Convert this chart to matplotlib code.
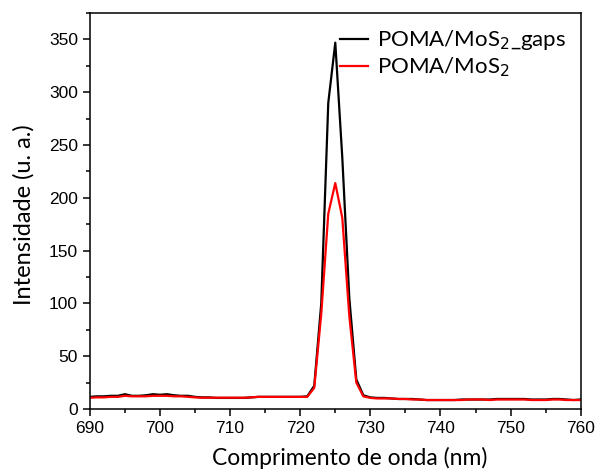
import numpy as np
import matplotlib.pyplot as plt
from matplotlib.ticker import MultipleLocator

# wavelength (nm), 1 nm step
wavelength = np.arange(690, 761)

# POMA/MoS2_gaps (black)
gaps = [11.5, 12, 12, 12.5, 12.5, 14, 12.5, 12.5, 13, 14,
        13.5, 14, 13, 12.5, 12.5, 11.5, 11, 11, 10.5, 10.5,
        10.5, 10.5, 10.5, 11, 11.5, 11.5, 11.5, 11.5, 11.5, 11.5,
        11.5, 12, 22, 100, 290, 347, 238, 105, 28, 13,
        11, 10.5, 10.5, 10, 9.5, 9.5, 9.5, 9, 8.5, 8.5,
        8.5, 8.5, 8.5, 9, 9, 9, 9, 9, 9.5, 9.5,
        9.5, 9.5, 9.5, 9, 9, 9, 9.5, 9.5, 9, 8.5, 9]

# POMA/MoS2 (red)
pure = [10.7, 11, 11, 11.5, 11.5, 12.5, 12, 12, 12, 12.5,
        12.5, 12.5, 12, 12, 11.5, 11, 10.7, 10.7, 10.7, 10.7,
        10.7, 10.7, 10.7, 11, 11.5, 11.5, 11.5, 11.5, 11.5, 11.5,
        11.5, 11.5, 20, 90, 185, 214, 181, 88, 25, 12,
        10.5, 10, 10, 10, 9.5, 9.5, 9, 9, 8.5, 8.5,
        8.5, 8.5, 8.5, 8.5, 9, 9, 9, 8.5, 9, 9,
        9, 9, 9, 8.5, 8.5, 8.5, 9, 9, 8.5, 8.5, 8.5]

fig = plt.figure(figsize=(5.95, 4.73), dpi=100)
ax = fig.add_axes([0.151, 0.1353, 0.825, 0.837])

ax.plot(wavelength, gaps, color='black', lw=1.6, label='POMA/MoS$_2$_gaps')
ax.plot(wavelength, pure, color='#ff0000', lw=1.6, label='POMA/MoS$_2$')

ax.set_xlim(690, 760)
ax.set_ylim(0, 375)
ax.xaxis.set_major_locator(MultipleLocator(10))
ax.xaxis.set_minor_locator(MultipleLocator(5))
ax.yaxis.set_major_locator(MultipleLocator(50))
ax.yaxis.set_minor_locator(MultipleLocator(25))
ax.tick_params(which='both', direction='out', width=1.1)
ax.tick_params(which='major', length=5, labelsize=12.5)
ax.tick_params(which='minor', length=3)
for lbl in ax.get_xticklabels() + ax.get_yticklabels():
    lbl.set_family('Liberation Sans')
for s in ax.spines.values():
    s.set_linewidth(1.1)

ax.set_xlabel('Comprimento de onda (nm)', family='Lato', fontsize=16.5)
ax.set_ylabel('Intensidade (u. a.)', family='Lato', fontsize=17)
ax.xaxis.set_label_coords(0.53, -0.095)
ax.yaxis.set_label_coords(-0.112, 0.49)

ax.legend(loc='upper right', frameon=False, prop={'family': 'Lato', 'size': 16},
          handlelength=1.3, handletextpad=0.4, labelspacing=0.15,
          borderaxespad=0.2, bbox_to_anchor=(0.998, 0.995))

fig.savefig('out.png', dpi=100)
